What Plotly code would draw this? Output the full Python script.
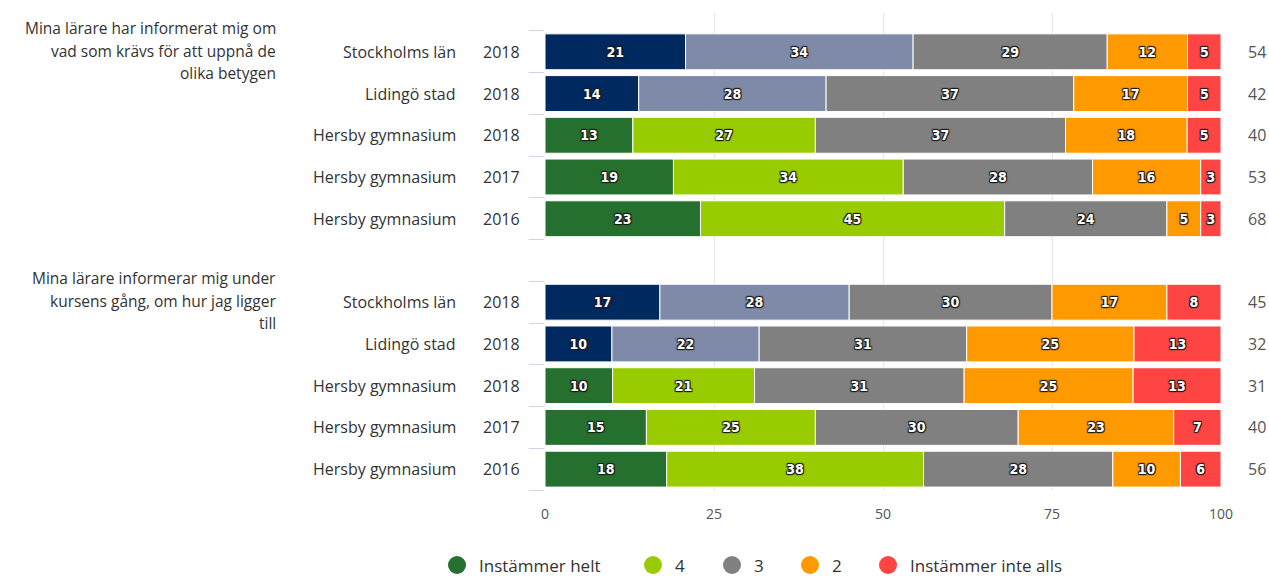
import plotly.graph_objects as go

# ---------------- data ----------------
questions = [
    ["Mina lärare har informerat mig om", "vad som krävs för att uppnå de", "olika betygen"],
    ["Mina lärare informerar mig under", "kursens gång, om hur jag ligger", "till"],
]
schools = ["Stockholms län", "Lidingö stad", "Hersby gymnasium", "Hersby gymnasium", "Hersby gymnasium"]
years = ["2018", "2018", "2018", "2017", "2016"]

series_names = ["Instämmer helt", "4", "3", "2", "Instämmer inte alls"]

q1_helt = [21, 14, 13, 19, 23]
q1_4 = [34, 28, 27, 34, 45]
q1_3 = [29, 37, 37, 28, 24]
q1_2 = [12, 17, 18, 16, 5]
q1_inte = [5, 5, 5, 3, 3]
q1_n = [54, 42, 40, 53, 68]

q2_helt = [17, 10, 10, 15, 18]
q2_4 = [28, 22, 21, 25, 38]
q2_3 = [30, 31, 31, 30, 28]
q2_2 = [17, 25, 25, 23, 10]
q2_inte = [8, 13, 13, 7, 6]
q2_n = [45, 32, 31, 40, 56]

x_ticks = [0, 25, 50, 75, 100]

# ---------------- styles ----------------
colors_school = ["#25702e", "#99cc00", "#808080", "#ff9900", "#ff4444"]
colors_region = ["#002960", "#7f8aa8", "#808080", "#ff9900", "#ff4444"]
is_region = [True, True, False, False, False]

groups = [
    [q1_helt, q1_4, q1_3, q1_2, q1_inte],
    [q2_helt, q2_4, q2_3, q2_2, q2_inte],
]
totals = [q1_n, q2_n]
group_start = [0, 6]

label_font = "'Open Sans', Lato, sans-serif"
text_col = "#333333"

W, H = 1269, 577
ML, MR, MT, MB = 545, 48, 13, 87
PW, PH = W - ML - MR, H - MT - MB


def px_to_paper_x(px):
    return (px - ML) / PW


def px_to_paper_y(py):
    return (H - MB - py) / PH


fig = go.Figure()

for s in range(5):
    ys, xs, texts, cols, bases = [], [], [], [], []
    for g, series in enumerate(groups):
        for r in range(5):
            row_sum = sum(series[k][r] for k in range(5))
            base = sum(series[k][r] for k in range(s)) * 100.0 / row_sum
            ys.append(group_start[g] + r)
            xs.append(series[s][r] * 100.0 / row_sum)
            bases.append(base)
            texts.append(str(series[s][r]))
            cols.append(colors_region[s] if is_region[r] else colors_school[s])
    fig.add_trace(go.Bar(
        orientation="h", y=ys, x=xs, base=bases, text=texts, name=series_names[s],
        textposition="inside", insidetextanchor="middle", textangle=0,
        constraintext="none",
        textfont=dict(family="'DejaVu Sans Condensed', 'Liberation Sans Narrow', sans-serif",
                      size=14, color="white", weight="bold",
                      shadow="1px 1px 1px #1a1a1a, -1px -1px 1px #1a1a1a, 1px -1px 1px #1a1a1a, -1px 1px 1px #1a1a1a"),
        marker=dict(color=cols, line=dict(color="white", width=1)),
        width=0.86, showlegend=False, hoverinfo="skip",
    ))

annotations = []
shapes = []
for g in range(2):
    for li, line in enumerate(questions[g]):
        annotations.append(dict(
            xref="paper", yref="y", x=-0.395, y=group_start[g] - 0.57 + li * 0.54,
            xanchor="right", yanchor="middle", align="right", showarrow=False,
            text=line, font=dict(family=label_font, size=15.5, color=text_col),
        ))
    for r in range(5):
        yv = group_start[g] + r
        annotations.append(dict(
            xref="paper", yref="y", x=-0.1287, y=yv, xanchor="right", yanchor="middle",
            showarrow=False, text=schools[r],
            font=dict(family=label_font, size=16, color=text_col)))
        annotations.append(dict(
            xref="paper", yref="y", x=-0.034, y=yv, xanchor="right", yanchor="middle",
            showarrow=False, text=years[r],
            font=dict(family=label_font, size=16, color=text_col)))
        annotations.append(dict(
            xref="paper", yref="y", x=1.037, y=yv, xanchor="left", yanchor="middle",
            showarrow=False, text=str(totals[g][r]),
            font=dict(family=label_font, size=16, color="#555555")))

# legend (circle + label), positioned as in the reference
legend_px = [457, 653, 732, 810, 888]
legend_y = px_to_paper_y(565)
for s in range(5):
    cx = px_to_paper_x(legend_px[s])
    shapes.append(dict(type="circle", xref="paper", yref="paper",
                       xsizemode="pixel", ysizemode="pixel",
                       xanchor=cx, yanchor=legend_y, x0=-9, x1=9, y0=-9, y1=9,
                       fillcolor=colors_school[s], line=dict(width=0)))
    annotations.append(dict(
        xref="paper", yref="paper", x=px_to_paper_x(legend_px[s] + 20), y=legend_y,
        xanchor="left", yanchor="middle", showarrow=False, text=series_names[s],
        font=dict(family=label_font, size=17, color=text_col)))

fig.update_layout(
    width=W, height=H,
    margin=dict(l=ML, r=MR, t=MT, b=MB),
    paper_bgcolor="white", plot_bgcolor="white",
    barmode="overlay", showlegend=False,
    annotations=annotations, shapes=shapes,
    uniformtext=dict(minsize=14, mode="show"),
    xaxis=dict(range=[0, 100], tickvals=x_ticks, ticktext=[str(v) for v in x_ticks],
               showgrid=True, gridcolor="#e6e6e6", gridwidth=1, zeroline=False,
               showline=False, ticks="", ticklabelstandoff=14,
               tickfont=dict(family=label_font, size=14, color="#555555")),
    yaxis=dict(range=[10.5, -0.93], tickvals=[k - 0.5 for k in range(12)],
               showticklabels=False, ticks="outside", ticklen=15, tickcolor="#ccd6eb",
               tickwidth=1, showgrid=False, zeroline=False, showline=False),
)

fig.write_html("out.html", config={"displayModeBar": False},
               post_script="document.body.style.margin='0';")
